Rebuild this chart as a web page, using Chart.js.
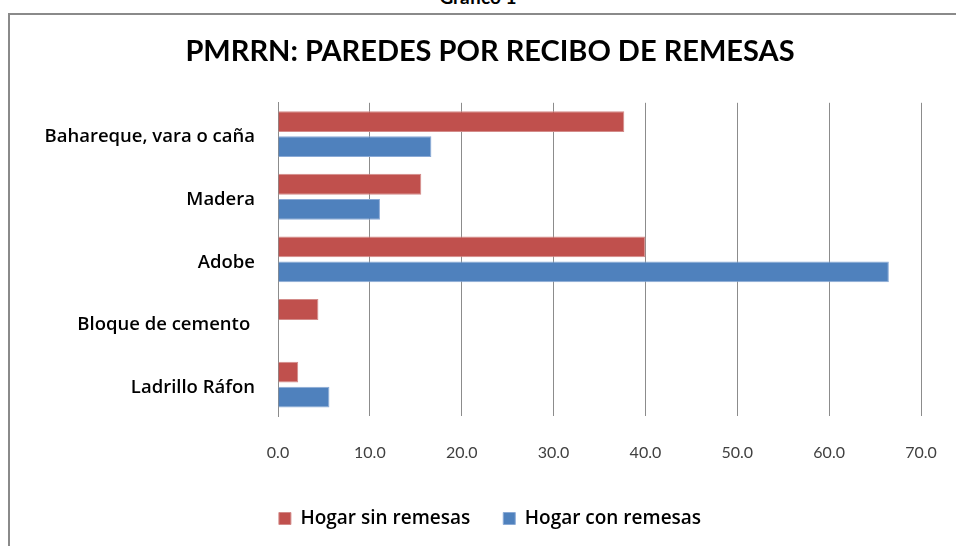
<!DOCTYPE html>
<html>
<head>
<meta charset="utf-8">
<script src="https://cdn.jsdelivr.net/npm/chart.js@4.4.1/dist/chart.umd.min.js"></script>
<style>
  html, body { margin: 0; padding: 0; background: #fff; }
  body { width: 956px; height: 546px; position: relative; overflow: hidden; font-family: Lato, sans-serif; }
  #caption { position: absolute; left: 0; width: 956px; top: -15px; text-align: center; font: bold 19px Lato, sans-serif; color: #000; }
  #frame { position: absolute; left: 8px; top: 13px; width: 968px; height: 547px; border-left: 2px solid #8a8a8a; border-top: 2px solid #8a8a8a; }
  #frame canvas { display: block; }
</style>
</head>
<body>
<div id="caption">Gráfico 1</div>
<div id="frame"><canvas id="chart" width="966" height="545"></canvas></div>
<script>
const categories = ['Bahareque, vara o caña', 'Madera', 'Adobe', 'Bloque de cemento ', 'Ladrillo Ráfon'];
const sinRemesas = [37.7, 15.6, 40.0, 4.4, 2.2];
const conRemesas = [16.7, 11.1, 66.5, 0, 5.6];
const seriesLabels = ['Hogar sin remesas', 'Hogar con remesas'];
const xTicks = [0, 10, 20, 30, 40, 50, 60, 70];

const gridColor = '#8c8c8c';

// let the long category labels spill left of the y scale box without being clipped
const labelRoom = {
  id: 'labelRoom',
  afterLayout(chart) { chart.scales.y.left = 0; },
};

new Chart(document.getElementById('chart'), {
  type: 'bar',
  data: {
    labels: categories,
    datasets: [
      { label: seriesLabels[0], data: sinRemesas, backgroundColor: '#C0504D', borderColor: '#D38B89', borderWidth: 1 },
      { label: seriesLabels[1], data: conRemesas, backgroundColor: '#4F81BD', borderColor: '#8AAAD6', borderWidth: 1 },
    ],
  },
  plugins: [labelRoom],
  options: {
    indexAxis: 'y',
    responsive: false,
    animation: false,
    layout: { padding: { left: 49, right: 55, top: 0, bottom: 22 } },
    datasets: { bar: { categoryPercentage: 0.8, barPercentage: 0.83 } },
    scales: {
      x: {
        min: 0,
        max: 70,
        afterBuildTicks: (scale) => { scale.ticks = xTicks.map((v) => ({ value: v })); },
        afterFit: (scale) => { scale.height = 60; scale.paddingLeft = 0; scale.paddingRight = 0; },
        grid: { color: gridColor, drawTicks: false },
        border: { display: false },
        ticks: { padding: 27, color: '#404040', font: { family: 'Lato', size: 16 }, callback: (v) => Number(v).toFixed(1) },
      },
      y: {
        afterFit: (scale) => { scale.width = 219; scale.paddingTop = 0; scale.paddingBottom = 0; },
        grid: { display: false, drawTicks: false },
        border: { display: true, color: gridColor },
        ticks: { padding: 23, labelOffset: 3, color: '#000', font: { family: 'Open Sans', size: 18.5, weight: '600' } },
      },
    },
    plugins: {
      title: {
        display: true,
        text: 'PMRRN: PAREDES POR RECIBO DE REMESAS',
        color: '#000',
        font: { family: 'Lato', size: 29, weight: 'bold' },
        padding: { top: 19, bottom: 34 },
      },
      legend: {
        position: 'bottom',
        labels: { boxWidth: 12, boxHeight: 12, padding: 33, color: '#000', font: { family: 'Open Sans', size: 19, weight: '600' } },
      },
      tooltip: { enabled: false },
    },
  },
});
</script>
</body>
</html>
